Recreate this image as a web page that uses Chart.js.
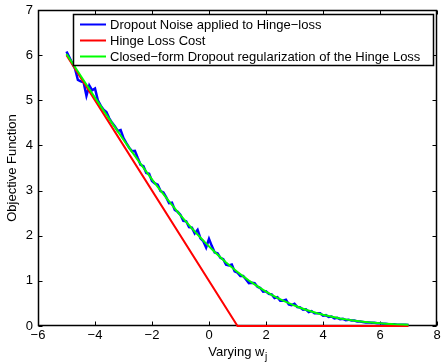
<!DOCTYPE html>
<html>
<head>
<meta charset="utf-8">
<script src="https://cdn.jsdelivr.net/npm/chart.js@4.4.1/dist/chart.umd.min.js"></script>
<style>
html,body{margin:0;padding:0;background:#fff;}
#wrap{width:441px;height:364px;position:relative;}
</style>
</head>
<body>
<div id="wrap"><canvas id="c" width="441" height="364"></canvas></div>
<script>
// ---- Data ----
const seriesLabels = [
  "Dropout Noise applied to Hinge\u2212loss",
  "Hinge Loss Cost",
  "Closed\u2212form Dropout regularization of the Hinge Loss"
];
const xTitle = "Varying w";
const xTitleSub = "j";
const yTitle = "Objective Function";

// Blue: noisy dropout simulation, x from -5 to 7 step 0.1
const noiseX = [-5.0,-4.9,-4.8,-4.7,-4.6,-4.5,-4.4,-4.3,-4.2,-4.1,-4.0,-3.9,-3.8,-3.7,-3.6,-3.5,-3.4,-3.3,-3.2,-3.1,-3.0,-2.9,-2.8,-2.7,-2.6,-2.5,-2.4,-2.3,-2.2,-2.1,-2.0,-1.9,-1.8,-1.7,-1.6,-1.5,-1.4,-1.3,-1.2,-1.1,-1.0,-0.9,-0.8,-0.7,-0.6,-0.5,-0.4,-0.3,-0.2,-0.1,0.0,0.1,0.2,0.3,0.4,0.5,0.6,0.7,0.8,0.9,1.0,1.1,1.2,1.3,1.4,1.5,1.6,1.7,1.8,1.9,2.0,2.1,2.2,2.3,2.4,2.5,2.6,2.7,2.8,2.9,3.0,3.1,3.2,3.3,3.4,3.5,3.6,3.7,3.8,3.9,4.0,4.1,4.2,4.3,4.4,4.5,4.6,4.7,4.8,4.9,5.0,5.1,5.2,5.3,5.4,5.5,5.6,5.7,5.8,5.9,6.0,6.1,6.2,6.3,6.4,6.5,6.6,6.7,6.8,6.9,7.0];
const noiseY = [6.08,5.95,5.82,5.70,5.45,5.42,5.40,5.10,5.33,5.22,5.26,5.00,4.88,4.79,4.74,4.60,4.50,4.42,4.32,4.34,4.16,4.05,3.95,3.87,3.88,3.72,3.57,3.54,3.39,3.37,3.21,3.16,3.13,2.99,2.96,2.85,2.72,2.73,2.57,2.53,2.46,2.33,2.32,2.19,2.18,2.05,2.13,1.94,1.88,1.74,1.93,1.77,1.63,1.61,1.51,1.48,1.36,1.34,1.36,1.21,1.18,1.11,1.11,1.03,0.95,0.96,0.95,0.87,0.84,0.76,0.77,0.71,0.70,0.62,0.64,0.56,0.56,0.58,0.48,0.46,0.49,0.42,0.41,0.36,0.37,0.31,0.33,0.28,0.28,0.28,0.23,0.24,0.20,0.21,0.17,0.18,0.15,0.16,0.13,0.14,0.12,0.12,0.10,0.10,0.09,0.08,0.08,0.07,0.07,0.06,0.06,0.05,0.05,0.04,0.04,0.04,0.03,0.03,0.03,0.03,0.02];

// Red: hinge loss
const hingeX = [-5, 1, 7];
const hingeY = [6, 0, 0];

// Green: closed-form, x from -5 to 7 step 0.2
const closedX = [-5.0,-4.8,-4.6,-4.4,-4.2,-4.0,-3.8,-3.6,-3.4,-3.2,-3.0,-2.8,-2.6,-2.4,-2.2,-2.0,-1.8,-1.6,-1.4,-1.2,-1.0,-0.8,-0.6,-0.4,-0.2,0.0,0.2,0.4,0.6,0.8,1.0,1.2,1.4,1.6,1.8,2.0,2.2,2.4,2.6,2.8,3.0,3.2,3.4,3.6,3.8,4.0,4.2,4.4,4.6,4.8,5.0,5.2,5.4,5.6,5.8,6.0,6.2,6.4,6.6,6.8,7.0];
const closedY = [6.026,5.831,5.636,5.443,5.250,5.059,4.870,4.681,4.495,4.310,4.127,3.947,3.768,3.593,3.420,3.250,3.083,2.920,2.761,2.605,2.453,2.306,2.163,2.025,1.891,1.763,1.639,1.521,1.408,1.300,1.197,1.100,1.008,0.921,0.839,0.763,0.691,0.625,0.563,0.506,0.453,0.405,0.361,0.320,0.283,0.250,0.220,0.193,0.168,0.147,0.127,0.110,0.095,0.081,0.070,0.059,0.050,0.043,0.036,0.031,0.026];

const xTicks = [-6,-4,-2,0,2,4,6,8];
const yTicks = [0,1,2,3,4,5,6,7];

const colors = ["#0000ff", "#ff0000", "#00ff00"];

const FONT = "'Liberation Sans', Arial, Helvetica, sans-serif";
const FS = 13;
const zip = (xs, ys) => xs.map((x, i) => ({x: x, y: ys[i]}));
const fmt = v => (v < 0 ? "\u2212" + Math.abs(v) : String(v));

// ---- Plugin: MATLAB-style box, inward ticks, legend and axis titles ----
const matlabPlugin = {
  id: 'matlab',
  beforeDatasetsDraw(chart) {
    const ctx = chart.ctx;
    const a = chart.chartArea;
    const xs = chart.scales.x, ys = chart.scales.y;
    ctx.save();
    ctx.strokeStyle = '#000';
    ctx.lineWidth = 1;
    const L = Math.round(a.left) + 0.5, R = Math.round(a.right) - 0.5;
    const T = Math.round(a.top) + 0.5, B = Math.round(a.bottom) - 0.5;
    const tl = 4;
    ctx.beginPath();
    xTicks.forEach(v => {
      const px = Math.round(xs.getPixelForValue(v)) + 0.5;
      ctx.moveTo(px, B); ctx.lineTo(px, B - tl);
      ctx.moveTo(px, T); ctx.lineTo(px, T + tl);
    });
    yTicks.forEach(v => {
      const py = Math.round(ys.getPixelForValue(v)) + 0.5;
      ctx.moveTo(L, py); ctx.lineTo(L + tl, py);
      ctx.moveTo(R, py); ctx.lineTo(R - tl, py);
    });
    ctx.stroke();
    ctx.lineWidth = 1.5;
    ctx.strokeRect(L, T, R - L, B - T);
    ctx.restore();
  },
  afterDatasetsDraw(chart) {
    const ctx = chart.ctx;
    const a = chart.chartArea;
    ctx.save();
    // Legend box
    const lx = 73.5, ly = 14.5, lw = 360, lh = 51;
    ctx.fillStyle = '#fff';
    ctx.fillRect(lx, ly, lw, lh);
    ctx.strokeStyle = '#000';
    ctx.lineWidth = 1.5;
    ctx.strokeRect(lx, ly, lw, lh);
    ctx.font = FS + 'px ' + FONT;
    ctx.textBaseline = 'middle';
    ctx.textAlign = 'left';
    chart.data.datasets.forEach((ds, i) => {
      const cy = 24.5 + i * 16;
      ctx.strokeStyle = ds.borderColor;
      ctx.lineWidth = 2;
      ctx.beginPath();
      ctx.moveTo(80, cy); ctx.lineTo(106, cy);
      ctx.stroke();
      ctx.fillStyle = '#000';
      ctx.fillText(ds.label, 110, cy + 0.5);
    });

    // Axis titles
    ctx.fillStyle = '#000';
    ctx.font = FS + 'px ' + FONT;
    const cx = (a.left + a.right) / 2;
    const w1 = ctx.measureText(xTitle).width;
    ctx.font = '10px ' + FONT;
    const w2 = ctx.measureText(xTitleSub).width;
    const sx = cx - (w1 + w2) / 2;
    ctx.font = FS + 'px ' + FONT;
    ctx.textAlign = 'left';
    ctx.textBaseline = 'middle';
    ctx.fillText(xTitle, sx, 352);
    ctx.font = '10px ' + FONT;
    ctx.fillText(xTitleSub, sx + w1 + 0.5, 357);

    ctx.font = FS + 'px ' + FONT;
    ctx.translate(12, (a.top + a.bottom) / 2);
    ctx.rotate(-Math.PI / 2);
    ctx.textAlign = 'center';
    ctx.fillText(yTitle, 0, 0);
    ctx.restore();
  }
};

new Chart(document.getElementById('c'), {
  type: 'scatter',
  data: {
    datasets: [
      {label: seriesLabels[0], data: zip(noiseX, noiseY), borderColor: colors[0], order: 3, borderWidth: 2.5},
      {label: seriesLabels[1], data: zip(hingeX, hingeY), borderColor: colors[1], order: 2, borderWidth: 2},
      {label: seriesLabels[2], data: zip(closedX, closedY), borderColor: colors[2], order: 1, borderWidth: 2}
    ].map(d => Object.assign(d, {showLine: true, pointRadius: 0, tension: 0, fill: false, clip: false, backgroundColor: d.borderColor}))
  },
  options: {
    responsive: false,
    animation: false,
    devicePixelRatio: 1,
    layout: {padding: {top: 10, right: 4, left: 0, bottom: 0}},
    plugins: {legend: {display: false}, tooltip: {enabled: false}},
    scales: {
      x: {
        type: 'linear', min: -6, max: 8,
        afterBuildTicks: s => { s.ticks = xTicks.map(v => ({value: v})); },
        afterFit: s => { s.height = 38; s.paddingLeft = 0; s.paddingRight = 0; },
        grid: {display: false, drawTicks: false},
        border: {display: false},
        ticks: {color: '#000', font: {family: FONT, size: FS}, padding: 2, maxRotation: 0, autoSkip: false, callback: v => fmt(v)}
      },
      y: {
        type: 'linear', min: 0, max: 7,
        afterBuildTicks: s => { s.ticks = yTicks.map(v => ({value: v})); },
        afterFit: s => { s.width = 38; s.paddingTop = 0; s.paddingBottom = 0; },
        grid: {display: false, drawTicks: false},
        border: {display: false},
        ticks: {color: '#000', font: {family: FONT, size: FS}, padding: 5, autoSkip: false, callback: v => fmt(v)}
      }
    }
  },
  plugins: [matlabPlugin]
});
</script>
</body>
</html>
